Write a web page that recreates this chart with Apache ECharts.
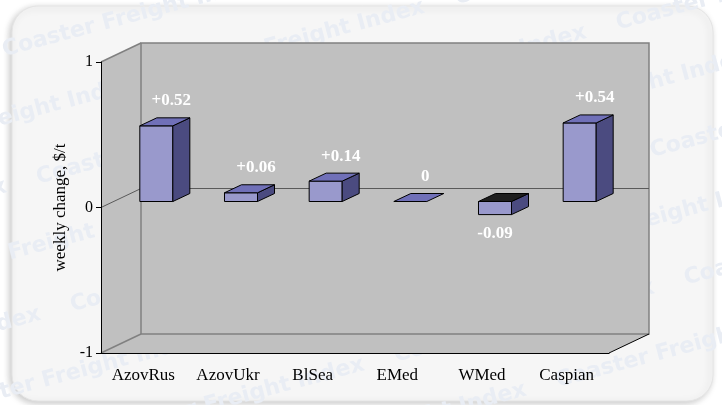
<!DOCTYPE html>
<html>
<head>
<meta charset="utf-8">
<script src="https://cdn.jsdelivr.net/npm/echarts@6/dist/echarts.min.js"></script>
<style>
  html, body { margin: 0; padding: 0; background: #fff; }
  #chart { width: 722px; height: 405px; }
</style>
</head>
<body>
<div id="chart"></div>
<script>
// weekly change by region, $/t
const categories = ['AzovRus', 'AzovUkr', 'BlSea', 'EMed', 'WMed', 'Caspian'];
const changes = [0.52, 0.06, 0.14, 0, -0.09, 0.54];
const changeLabels = ['+0.52', '+0.06', '+0.14', '0', '-0.09', '+0.54'];
const yMin = -1, yMax = 1, yStep = 1;

const SERIF = '"Liberation Serif", "Times New Roman", serif';

// 3d look (pixels)
const DX = 40, DY = 19;     // wall depth
const FX = 13, FY = 6;      // bar front plane offset
const BX = 17, BY = 8;      // bar depth

let myChart = echarts.init(document.getElementById('chart'));

// watermark text behind everything
const wm = [];
const ang = 0.26;
for (let r = -3; r < 8; r++) {
  for (let c = -1; c < 5; c++) {
    const u = c * 300 + (r % 2 ? 150 : 0);
    const v = r * 66;
    wm.push({
      type: 'text',
      x: u * Math.cos(ang) + v * Math.sin(ang),
      y: -u * Math.sin(ang) + v * Math.cos(ang) + 40,
      rotation: ang,
      z: -20,
      silent: true,
      style: {
        text: 'Coaster Freight Index',
        font: 'bold 22px "DejaVu Sans", sans-serif',
        fill: '#e9edf4'
      }
    });
  }
}

function renderWalls(params, api) {
  const cs = params.coordSys;
  const x0 = cs.x, y0 = cs.y, x1 = cs.x + cs.width, y1 = cs.y + cs.height;
  const zy = api.coord([0, 0])[1];
  const wall = '#c0c0c0', edge = '#808080';
  const ln = (pts, color, w) => ({
    type: 'polyline', shape: { points: pts },
    style: { stroke: color, lineWidth: w, fill: 'none' }
  });
  return {
    type: 'group',
    children: [
      { type: 'polygon', shape: { points: [[x0, y0], [x0 + DX, y0 - DY], [x0 + DX, y1 - DY], [x0, y1]] },
        style: { fill: wall } },
      { type: 'polygon', shape: { points: [[x0, y1], [x1, y1], [x1 + DX, y1 - DY], [x0 + DX, y1 - DY]] },
        style: { fill: wall } },
      { type: 'rect', shape: { x: x0 + DX, y: y0 - DY, width: cs.width, height: cs.height },
        style: { fill: wall, stroke: edge, lineWidth: 1.5 } },
      ln([[x0, y0], [x0 + DX, y0 - DY]], edge, 1.5),
      ln([[x0, y1], [x0 + DX, y1 - DY]], edge, 1.5),
      ln([[x0, zy], [x0 + DX, zy - DY], [x1 + DX, zy - DY]], '#5a5a5a', 1),
      ln([[x1, y1], [x1 + DX, y1 - DY]], '#000', 1)
    ]
  };
}

function renderBar(params, api) {
  const i = api.value(0), v = api.value(1);
  const base = api.coord([i, 0]);
  const tip = api.coord([i, v]);
  const w = api.size([1, 0])[0] * 0.39;
  const cx = base[0] + FX;
  const yZ = base[1] - FY, yV = tip[1] - FY;
  const yT = Math.min(yZ, yV), yB = Math.max(yZ, yV);
  const xl = cx - w / 2, xr = cx + w / 2;
  const line = { stroke: '#000', lineWidth: 1 };
  const kids = [];
  if (v !== 0) {
    kids.push({ type: 'rect', shape: { x: xl, y: yT, width: w, height: yB - yT },
      style: Object.assign({ fill: '#9999cc' }, line) });
    kids.push({ type: 'polygon', shape: { points: [[xr, yT], [xr + BX, yT - BY], [xr + BX, yB - BY], [xr, yB]] },
      style: Object.assign({ fill: '#4b4b80' }, line) });
  }
  kids.push({ type: 'polygon', shape: { points: [[xl, yT], [xr, yT], [xr + BX, yT - BY], [xl + BX, yT - BY]] },
    style: Object.assign({ fill: v < 0 ? '#1e1e1e' : '#7070b8' }, line) });
  kids.push({
    type: 'text',
    x: v < 0 ? cx : cx + 15,
    y: v < 0 ? yB + 19 : yT - 25,
    style: {
      text: changeLabels[params.dataIndex],
      font: 'bold 17px ' + SERIF,
      fill: '#fff',
      align: 'center',
      verticalAlign: 'middle'
    }
  });
  return { type: 'group', children: kids };
}

myChart.setOption({
  animation: false,
  graphic: [
    { type: 'rect', z: -30, silent: true,
      shape: { x: 12, y: 6, width: 701, height: 395, r: 26 },
      style: { fill: '#f6f6f6', stroke: '#e4e4e4', lineWidth: 1,
        shadowBlur: 7, shadowOffsetX: -2, shadowOffsetY: 2, shadowColor: 'rgba(0,0,0,0.22)' } },
    { type: 'group', z: -20, silent: true, children: wm }
  ],
  grid: { left: 101, top: 62, width: 508, height: 291 },
  xAxis: {
    type: 'category',
    data: categories,
    axisLine: { onZero: false, lineStyle: { color: '#000', width: 1 } },
    axisTick: { show: false },
    axisLabel: { color: '#000', fontFamily: SERIF, fontSize: 17, margin: 14 },
    splitLine: { show: false }
  },
  yAxis: {
    type: 'value',
    min: yMin, max: yMax, interval: yStep,
    name: 'weekly change, $/t',
    nameLocation: 'middle',
    nameGap: 25,
    nameTextStyle: { color: '#000', fontFamily: SERIF, fontSize: 17 },
    axisLine: { show: true, lineStyle: { color: '#000', width: 1 } },
    axisTick: { show: true, length: 5, lineStyle: { color: '#000' } },
    axisLabel: { color: '#000', fontFamily: SERIF, fontSize: 16, margin: 8 },
    splitLine: { show: false }
  },
  series: [
    {
      type: 'custom',
      z: -1,
      silent: true,
      renderItem: renderWalls,
      data: [[0, 0]],
      encode: { x: 0, y: 1 }
    },
    {
      type: 'custom',
      renderItem: renderBar,
      data: changes.map((v, i) => [i, v]),
      encode: { x: 0, y: 1 }
    }
  ]
});
</script>
</body>
</html>
